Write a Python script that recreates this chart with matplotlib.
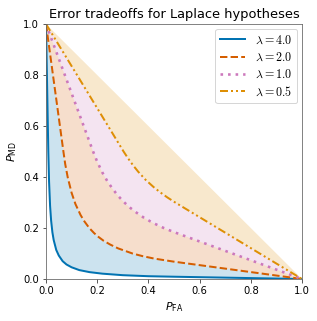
import numpy as np
import matplotlib
matplotlib.use("Agg")
import matplotlib.pyplot as plt

# ROC-style error tradeoff curves (P_FA, P_MD)
lam_labels = [r"$\lambda = 4.0$", r"$\lambda = 2.0$", r"$\lambda = 1.0$", r"$\lambda = 0.5$"]

pfa_4 = [0.0, 0.009, 0.012, 0.016, 0.02, 0.025, 0.03, 0.04, 0.05, 0.065, 0.08, 0.1,
         0.13, 0.17, 0.22, 0.3, 0.4, 0.5, 1.0]
pmd_4 = [1.0, 0.5, 0.382, 0.286, 0.229, 0.183, 0.153, 0.114, 0.092, 0.070, 0.057, 0.046,
         0.035, 0.027, 0.021, 0.015, 0.011, 0.009, 0.0]

pfa_2 = [0.0, 0.068, 0.075, 0.085, 0.1, 0.115, 0.135, 0.15, 0.169, 0.188, 0.205, 0.225,
         0.251, 0.282, 0.338, 0.376, 0.423, 0.5, 1.0]
pmd_2 = [1.0, 0.5, 0.451, 0.398, 0.338, 0.294, 0.251, 0.226, 0.2, 0.18, 0.165, 0.15,
         0.135, 0.12, 0.1, 0.09, 0.08, 0.068, 0.0]

pfa_1 = [0.0, 0.184, 0.2, 0.22, 0.24, 0.26, 0.28, 0.303, 0.328, 0.354, 0.383, 0.418,
         0.46, 0.5, 1.0]
pmd_1 = [1.0, 0.5, 0.46, 0.418, 0.383, 0.354, 0.328, 0.303, 0.28, 0.26, 0.24, 0.22,
         0.2, 0.184, 0.0]

pfa_05 = [0.0, 0.303, 0.32, 0.34, 0.36, 0.389, 0.421, 0.446, 0.474, 0.5, 1.0]
pmd_05 = [1.0, 0.5, 0.474, 0.446, 0.421, 0.389, 0.36, 0.34, 0.32, 0.303, 0.0]

pfa_chance = [0.0, 1.0]
pmd_chance = [1.0, 0.0]

colors = ["#0173b2", "#d55e00", "#cc78bc", "#de8f05"]
styles = ["-", (0, (3.7, 1.6)), (0, (1, 1.9)), (0, (4, 1.5, 1, 1.5, 1, 1.5))]
widths = [2, 2, 2.6, 2]

curves = [(pfa_4, pmd_4), (pfa_2, pmd_2), (pfa_1, pmd_1), (pfa_05, pmd_05)]
bounds = [(pfa_2, pmd_2), (pfa_1, pmd_1), (pfa_05, pmd_05), (pfa_chance, pmd_chance)]

fig = plt.figure(figsize=(317 / 72, 321 / 72), dpi=72)
ax = fig.add_axes([0.1451, 0.1308, 0.8076, 0.7944])

# shaded bands between neighbouring curves
for (x1, y1), (x2, y2), c in zip(curves, bounds, colors):
    xs = np.concatenate([x1, x2[::-1]])
    ys = np.concatenate([y1, y2[::-1]])
    ax.fill(xs, ys, color=c, alpha=0.2, lw=0)

for (x, y), c, ls, lw, lab in zip(curves, colors, styles, widths, lam_labels):
    ax.plot(x, y, color=c, linestyle=ls, lw=lw, label=lab)

ax.set_xlim(0, 1)
ax.set_ylim(0, 1)
ax.set_xticks(np.arange(0, 1.01, 0.2))
ax.set_yticks(np.arange(0, 1.01, 0.2))
ax.set_xlabel(r"$P_{\mathrm{FA}}$", fontsize=11)
ax.set_ylabel(r"$P_{\mathrm{MD}}$", fontsize=11)
ax.set_title("Error tradeoffs for Laplace hypotheses", fontsize=13)

for s in ax.spines.values():
    s.set_color("0.4")
ax.tick_params(colors="0.2", labelcolor="black", labelsize=10)

leg = ax.legend(loc="upper right", handlelength=2.1, labelspacing=0.35,
                borderaxespad=0.4, prop={"math_fontfamily": "cm", "size": 12})

plt.savefig("out.png", dpi=72)
